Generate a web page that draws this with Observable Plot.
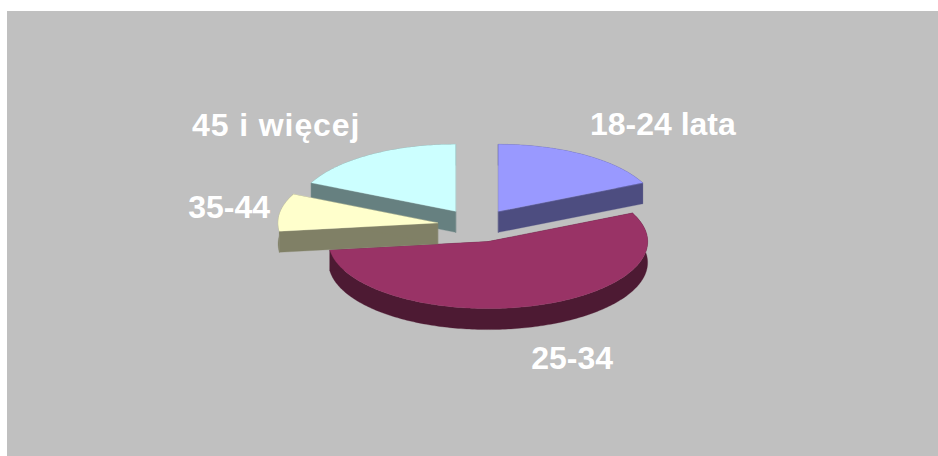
<!DOCTYPE html>
<html><head><meta charset="utf-8">
<script src="https://cdn.jsdelivr.net/npm/d3@7"></script>
<script src="https://cdn.jsdelivr.net/npm/@observablehq/plot@0.6"></script>
<style>
html,body{margin:0;padding:0;background:#fff;width:938px;height:456px;overflow:hidden}
#bg{position:absolute;left:7px;top:11px;right:0;bottom:0;background:#c0c0c0}
#chart{position:absolute;left:0;top:0}
#chart svg{background:transparent;display:block}
</style></head><body>
<div id="bg"></div><div id="chart"></div>
<script>
const categories = ["18-24 lata", "25-34", "35-44", "45 i więcej"];
const values = [18, 55, 9, 18];
const topColors = ["#9999ff", "#993366", "#ffffcc", "#ccffff"];
const sideColors = ["#4d4d80", "#4d1a33", "#808066", "#668080"];
const drawOrder = [0, 3, 1, 2];
const labelNudges = [[79, -30.5], [39.5, 53], [-51, -5], [-94, -29.5]];
const labelTracking = [0, 0, 0, 0.9];

const explode = 0.25, depth = 21 / 67, stepDeg = 1;
const total = d3.sum(values);
let acc = 0;
const slices = values.map((v, i) => {
  const a0 = acc / total * 2 * Math.PI; acc += v;
  const a1 = acc / total * 2 * Math.PI;
  const mid = (a0 + a1) / 2;
  const ox = explode * Math.sin(mid), oy = explode * Math.cos(mid);
  const n = Math.max(2, Math.ceil((a1 - a0) / (stepDeg * Math.PI / 180)));
  const arc = d3.range(n + 1).map(k => {
    const t = a0 + (a1 - a0) * k / n;
    return {x: ox + Math.sin(t), y: oy + Math.cos(t)};
  });
  const apex = {x: ox, y: oy};
  return {i, mid, ox, oy, arc, apex, outline: [apex, ...arc]};
});
const lower = p => ({x: p.x, y: p.y - depth});

// One side polygon for the rim and one for each radial cut, so no seams show.
function sidePolygons(s) {
  const first = s.arc[0], last = s.arc[s.arc.length - 1];
  return [
    [...s.arc, ...s.arc.map(lower).reverse()],
    [s.apex, first, lower(first), lower(s.apex)],
    [s.apex, last, lower(last), lower(s.apex)]
  ];
}

const marks = [];
for (const oi of drawOrder) {
  const s = slices[oi];
  for (const poly of sidePolygons(s)) {
    marks.push(Plot.line(poly, {
      x: "x", y: "y", curve: "linear-closed",
      fill: sideColors[oi], stroke: sideColors[oi], strokeWidth: 0.3
    }));
  }
  marks.push(Plot.line(s.outline, {
    x: "x", y: "y", curve: "linear-closed",
    fill: topColors[oi], stroke: topColors[oi], strokeWidth: 0.3
  }));
}
for (const s of slices) {
  const d = {name: categories[s.i], x: s.ox + Math.sin(s.mid), y: s.oy + Math.cos(s.mid)};
  marks.push(Plot.text([d], {
    x: "x", y: "y", text: "name", dx: labelNudges[s.i][0], dy: labelNudges[s.i][1],
    fill: "#fff", fontSize: 32, fontWeight: "bold",
    fontFamily: "Liberation Sans, Arial, sans-serif", lineAnchor: "middle",
    render: (index, scales, values, dims, ctx, next) => {
      const g = next(index, scales, values, dims, ctx);
      g.style.letterSpacing = labelTracking[s.i] + "px";
      return g;
    }
  }));
}
const plot = Plot.plot({
  width: 938, height: 456,
  marginTop: 0, marginRight: 0, marginBottom: 0, marginLeft: 0,
  x: {type: "linear", domain: [-1, 1], range: [317, 636], axis: null},
  y: {type: "linear", domain: [-1, 1], range: [292, 158], axis: null},
  style: {background: "transparent", overflow: "visible"},
  marks
});
document.getElementById("chart").append(plot);
</script>
</body></html>
